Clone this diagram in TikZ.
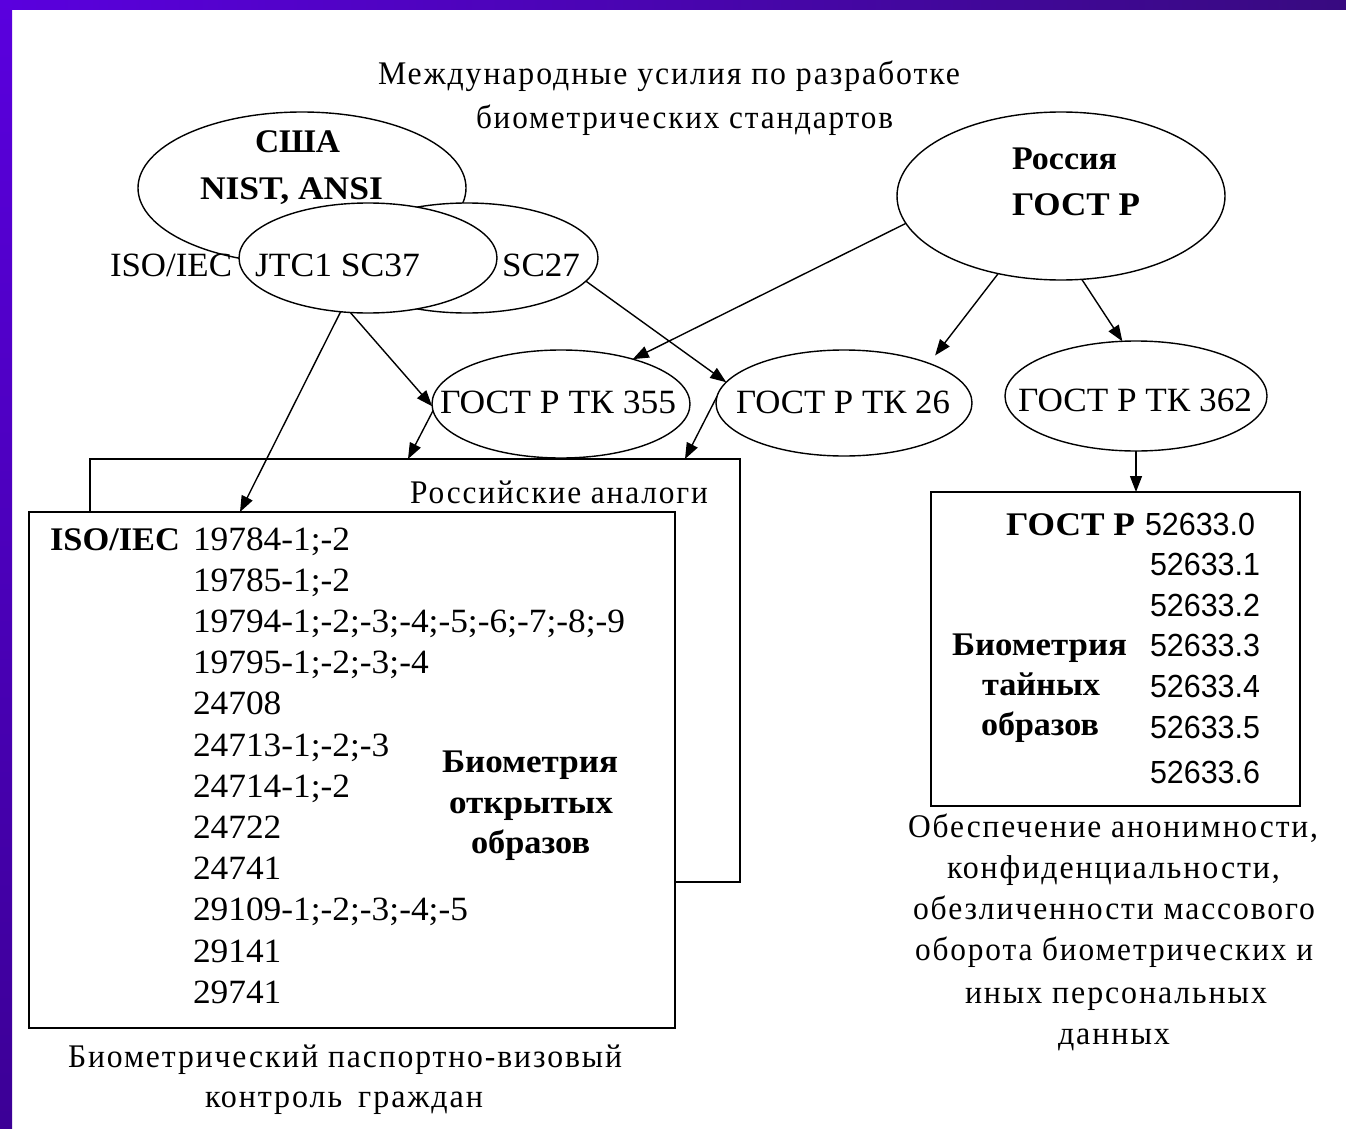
\documentclass[tikz,border=0pt]{standalone}
\usepackage{fontspec}
\setmainfont{Liberation Serif}
\newfontfamily\numf[FakeStretch=1.04]{Liberation Serif}
\newfontfamily\capf[LetterSpace=6]{Liberation Serif}
\newfontfamily\sansf{Liberation Sans}
\usetikzlibrary{shapes.geometric,arrows.meta}
\newcommand{\fitw}[2]{\resizebox{#1pt}{\height}{#2}}
\definecolor{barA}{RGB}{90,0,222}
\definecolor{barB}{RGB}{56,10,128}
\definecolor{barC}{RGB}{60,0,150}
\begin{document}
\begin{tikzpicture}[x=1pt,y=-1pt,
  ell/.style={ellipse,draw,fill=white,line width=1.4pt,inner sep=0pt,outer sep=0pt},
  boxn/.style={rectangle,draw,fill=white,line width=1.6pt,inner sep=0pt,outer sep=0pt},
  txt/.style={inner sep=0pt,outer sep=0pt,anchor=base west},
  capt/.style={txt,font=\capf\fontsize{33}{33}\selectfont},
  lab/.style={txt,font=\numf\fontsize{34}{34}\selectfont},
  bld/.style={txt,font=\bfseries\fontsize{33}{33}\selectfont},
  snum/.style={txt,font=\sansf\fontsize{32}{32}\selectfont},
  arr/.style={line width=1.4pt,-{Triangle[length=16pt,width=12pt]}},
]
\useasboundingbox (0,0) rectangle (1346,1129);
\fill[white] (0,0) rectangle (1346,1129);
\shade[left color=barA,right color=barB] (0,0) rectangle (1346,10);
\shade[top color=barA,bottom color=barC] (0,0) rectangle (12,1129);

% title
\node[capt] (t1) at (378,85) {\fitw{582}{Международные усилия по разработке}};
\node[capt] (t2) at (476,129) {\fitw{417}{биометрических стандартов}};

% ellipses
\node[ell,minimum width=328pt,minimum height=152pt] (usa) at (302,188) {};
\node[ell,minimum width=262pt,minimum height=110pt] (sc27) at (467,258) {};
\node[ell,minimum width=258pt,minimum height=110pt] (jtc) at (368,258) {};
\node[ell,minimum width=328pt,minimum height=168pt] (rus) at (1061,196) {};
\node[ell,minimum width=258pt,minimum height=108pt] (tk355) at (561,404) {};
\node[ell,minimum width=256pt,minimum height=106pt] (tk26) at (844,403) {};
\node[ell,minimum width=262pt,minimum height=110pt] (tk362) at (1136,396) {};

\node[bld] (usa1) at (255,153) {\fitw{85}{США}};
\node[bld] (usa2) at (200,199) {\fitw{183}{NIST, ANSI}};
\node[lab] (iso) at (110,276) {\fitw{122}{ISO/IEC}};
\node[lab] (jtcl) at (255,276) {\fitw{165}{JTC1 SC37}};
\node[lab] (sc27l) at (502,276) {\fitw{78}{SC27}};
\node[bld] (rus1) at (1012,170) {\fitw{105}{Россия}};
\node[bld] (rus2) at (1012,215) {\fitw{128}{ГОСТ Р}};
\node[lab] (l355) at (440,413) {\fitw{236}{ГОСТ Р ТК 355}};
\node[lab] (l26) at (736,413) {\fitw{214}{ГОСТ Р ТК 26}};
\node[lab] (l362) at (1018,411) {\fitw{234}{ГОСТ Р ТК 362}};

% boxes
\node[boxn,minimum width=650pt,minimum height=423pt] (back) at (415,670.5) {};
\node[boxn,minimum width=646pt,minimum height=516pt] (front) at (352,770) {};
\node[boxn,minimum width=369pt,minimum height=314pt] (rbox) at (1115.5,649) {};

\node[capt] (ra) at (410,503) {\fitw{298}{Российские аналоги}};
\node[bld] (isob) at (50,550) {\fitw{130}{ISO/IEC}};
\foreach \t [count=\i from 0] in {19784-1;-2,19785-1;-2,19794-1;-2;-3;-4;-5;-6;-7;-8;-9,19795-1;-2;-3;-4,24708,24713-1;-2;-3,24714-1;-2,24722,24741,29109-1;-2;-3;-4;-5,29141,29741}
  \node[lab] (n\i) at (193,{550+41.2*\i}) {\t};
\node[bld] (lb1) at (442,772) {\fitw{176}{Биометрия}};
\node[bld] (lb2) at (449,813) {\fitw{164}{открытых}};
\node[bld] (lb3) at (471,853) {\fitw{119}{образов}};

\node[bld] (rg) at (1006,535) {\fitw{129}{ГОСТ Р}};
\node[snum] (r0) at (1145,535) {\fitw{110}{52633.0}};
\node[snum] (r1) at (1150,575) {\fitw{110}{52633.1}};
\node[snum] (r2) at (1150,616) {\fitw{110}{52633.2}};
\node[snum] (r3) at (1150,656) {\fitw{110}{52633.3}};
\node[snum] (r4) at (1150,697) {\fitw{110}{52633.4}};
\node[snum] (r5) at (1150,738) {\fitw{110}{52633.5}};
\node[snum] (r6) at (1150,783) {\fitw{110}{52633.6}};
\node[bld] (rb1) at (952,655) {\fitw{175}{Биометрия}};
\node[bld] (rb2) at (982,695) {\fitw{118}{тайных}};
\node[bld] (rb3) at (981,735) {\fitw{118}{образов}};

% captions
\node[capt] (c1) at (908,837) {\fitw{410}{Обеспечение анонимности,}};
\node[capt] (c2) at (947,878) {\fitw{333}{конфиденциальности,}};
\node[capt] (c3) at (913,919) {\fitw{402}{обезличенности массового}};
\node[capt] (c4) at (915,960) {\fitw{398}{оборота биометрических и}};
\node[capt] (c5) at (965,1003) {\fitw{302}{иных персональных}};
\node[capt] (c6) at (1058,1044) {\fitw{112}{данных}};
\node[capt] (d1) at (68,1067) {\fitw{554}{Биометрический паспортно-визовый}};
\node[capt] (d2) at (205,1107) {\fitw{278}{контроль\enspace граждан}};

% connectors
\coordinate (fa) at (240,512);
\coordinate (ga) at (408,459);
\coordinate (ha) at (685,459);
\draw[arr] (jtc.243) -- (fa);
\draw[arr] (jtc.252) -- (tk355.181);
\draw[arr] (sc27.349) -- (tk26.170);
\draw[arr] (rus.190) -- (tk355.32);
\draw[arr,shorten >=10pt] (rus.231) -- (tk26.25);
\draw[arr] (rus.284) -- (tk362.104);
\draw[arr] (tk355.183) -- (ga);
\draw[arr] (tk26.177) -- (ha);
\draw[arr] (tk362.south) -- (tk362.south |- rbox.north);
\end{tikzpicture}
\end{document}
